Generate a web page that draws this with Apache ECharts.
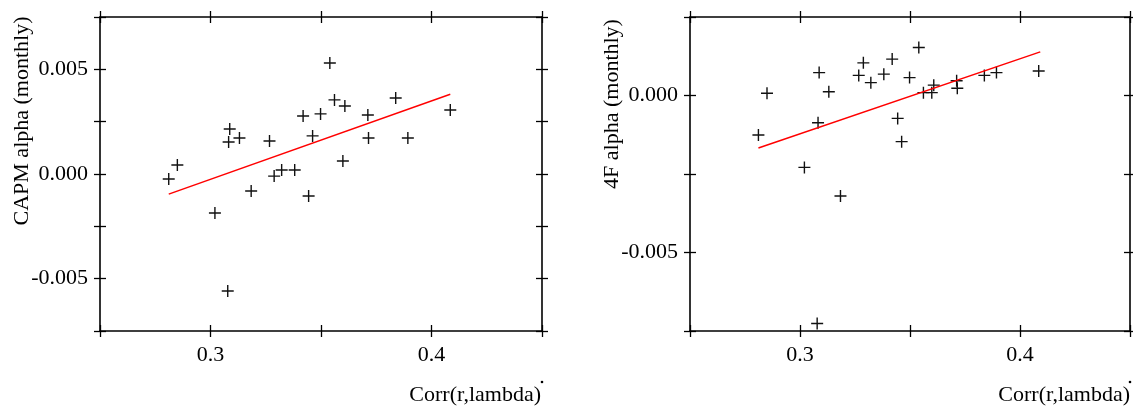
<!DOCTYPE html>
<html>
<head>
<meta charset="utf-8">
<script src="https://cdn.jsdelivr.net/npm/echarts@6/dist/echarts.min.js"></script>
<style>
html,body{margin:0;padding:0;background:#fff;}
#chart{width:1133px;height:407px;}
</style>
</head>
<body>
<div id="chart"></div>
<script>
// ---- data ----
const corr = [0.2811, 0.2850, 0.3020, 0.3078, 0.3087, 0.3082, 0.3131, 0.3184, 0.3267, 0.3288,
              0.3322, 0.3381, 0.3419, 0.3444, 0.3462, 0.3498, 0.3540, 0.3561, 0.3608, 0.3599,
              0.3712, 0.3715, 0.3838, 0.3893, 0.4085];
const capmAlpha = [-0.00024, 0.00043, -0.00186, -0.00559, 0.00215, 0.00153, 0.00172, -0.00081, 0.00158, -0.00010,
                   0.00019, 0.00019, 0.00277, -0.00105, 0.00182, 0.00287, 0.00530, 0.00354, 0.00325, 0.00062,
                   0.00282, 0.00172, 0.00363, 0.00172, 0.00306];
const ffAlpha = [-0.00126, 0.00007, -0.00229, -0.00726, 0.00073, -0.00087, 0.00012, -0.00320, 0.00064, 0.00104,
                 0.00041, 0.00068, 0.00116, -0.00073, -0.00147, 0.00057, 0.00153, 0.00009, 0.00033, 0.00009,
                 0.00047, 0.00023, 0.00064, 0.00073, 0.00078];
const capmFitX = [0.2811, 0.4085];
const capmFitY = [-0.00096, 0.00381];
const ffFitX = [0.2811, 0.4092];
const ffFitY = [-0.00167, 0.00139];

const xLabelValues = [0.3, 0.4];
const capmYLabelValues = [-0.005, 0.000, 0.005];
const ffYLabelValues = [-0.005, 0.000];
const xTitle = 'Corr(r,lambda)';
const capmYTitle = 'CAPM alpha (monthly)';
const ffYTitle = '4F alpha (monthly)';

// ---- chart ----
const FONT = '"Liberation Serif", "DejaVu Serif", serif';
const INK = '#000';
const panels = [
  {grid: {left: 100, top: 17, width: 442, height: 314}, xMin: 0.25, xMax: 0.45, xInt: 0.05,
   yMin: -0.0075, yMax: 0.0075, yInt: 0.0025, y: capmAlpha, fx: capmFitX, fy: capmFitY,
   yLabels: capmYLabelValues},
  {grid: {left: 690, top: 17, width: 441, height: 314}, xMin: 0.25, xMax: 0.45, xInt: 0.05,
   yMin: -0.0075, yMax: 0.0025, yInt: 0.0025, y: ffAlpha, fx: ffFitX, fy: ffFitY,
   yLabels: ffYLabelValues}
];

function near(v, list) { return list.some(t => Math.abs(v - t) < 1e-9); }

const grids = [], xAxes = [], yAxes = [], series = [];
const TL = 6;
const tickStyle = {color: INK, width: 1.3};
const hiddenLine = {show: false, onZero: false};
panels.forEach((p, g) => {
  grids.push(Object.assign({containLabel: false}, p.grid));
  const xBase = {type: 'value', gridIndex: g, min: p.xMin, max: p.xMax, interval: p.xInt,
    splitLine: {show: false}, axisLine: {show: true, onZero: false, lineStyle: {color: INK, width: 1.6}}};
  const yBase = {type: 'value', gridIndex: g, min: p.yMin, max: p.yMax, interval: p.yInt,
    splitLine: {show: false}, axisLine: {show: true, onZero: false, lineStyle: {color: INK, width: 1.6}}};
  const xMainIdx = xAxes.length;
  xAxes.push(Object.assign({}, xBase, {position: 'bottom',
    axisTick: {show: true, inside: false, length: TL, lineStyle: tickStyle},
    axisLabel: {show: true, margin: 13, color: INK, fontFamily: FONT, fontSize: 22,
      formatter: v => near(v, xLabelValues) ? v.toFixed(1) : ''}}));
  xAxes.push(Object.assign({}, xBase, {position: 'bottom', axisLine: hiddenLine,
    axisTick: {show: true, inside: true, length: TL, lineStyle: tickStyle}, axisLabel: {show: false}}));
  xAxes.push(Object.assign({}, xBase, {position: 'top',
    axisTick: {show: true, inside: false, length: TL, lineStyle: tickStyle}, axisLabel: {show: false}}));
  xAxes.push(Object.assign({}, xBase, {position: 'top', axisLine: hiddenLine,
    axisTick: {show: true, inside: true, length: TL, lineStyle: tickStyle}, axisLabel: {show: false}}));
  const yMainIdx = yAxes.length;
  const labs = p.yLabels;
  yAxes.push(Object.assign({}, yBase, {position: 'left',
    axisTick: {show: true, inside: false, length: TL, lineStyle: tickStyle},
    axisLabel: {show: true, margin: 12, color: INK, fontFamily: FONT, fontSize: 22,
      formatter: v => near(v, labs) ? (Math.abs(v) < 1e-12 ? '0.000' : v.toFixed(3)) : ''}}));
  yAxes.push(Object.assign({}, yBase, {position: 'left', axisLine: hiddenLine,
    axisTick: {show: true, inside: true, length: TL, lineStyle: tickStyle}, axisLabel: {show: false}}));
  yAxes.push(Object.assign({}, yBase, {position: 'right',
    axisTick: {show: true, inside: false, length: TL, lineStyle: tickStyle}, axisLabel: {show: false}}));
  yAxes.push(Object.assign({}, yBase, {position: 'right', axisLine: hiddenLine,
    axisTick: {show: true, inside: true, length: TL, lineStyle: tickStyle}, axisLabel: {show: false}}));

  series.push({type: 'scatter', xAxisIndex: xMainIdx, yAxisIndex: yMainIdx,
    symbol: 'path://M5.3,0H6.7V12H5.3Z M0,5.3H12V6.7H0Z', symbolSize: 12,
    itemStyle: {color: '#111', opacity: 1}, silent: true,
    data: corr.map((c, i) => [c, p.y[i]])});
  series.push({type: 'line', xAxisIndex: xMainIdx, yAxisIndex: yMainIdx, symbol: 'none', silent: true,
    lineStyle: {color: '#ff0000', width: 1.5}, data: p.fx.map((x, i) => [x, p.fy[i]])});
});

const chart = echarts.init(document.getElementById('chart'), null, {renderer: 'canvas'});
chart.setOption({
  animation: false,
  backgroundColor: '#fff',
  grid: grids,
  xAxis: xAxes,
  yAxis: yAxes,
  series: series,
  graphic: [
    {type: 'text', x: 22, y: 121, rotation: Math.PI / 2,
     style: {text: capmYTitle, font: '22px ' + FONT, fill: INK, textAlign: 'center', textVerticalAlign: 'middle'}},
    {type: 'text', x: 612, y: 104, rotation: Math.PI / 2,
     style: {text: ffYTitle, font: '22px ' + FONT, fill: INK, textAlign: 'center', textVerticalAlign: 'middle'}},
    {type: 'text', x: 541, y: 395,
     style: {text: xTitle, font: '22px ' + FONT, fill: INK, textAlign: 'right', textVerticalAlign: 'middle'}},
    {type: 'text', x: 1130, y: 395,
     style: {text: xTitle, font: '22px ' + FONT, fill: INK, textAlign: 'right', textVerticalAlign: 'middle'}},
    {type: 'circle', shape: {cx: 542, cy: 382, r: 1.3}, style: {fill: INK}},
    {type: 'circle', shape: {cx: 1130, cy: 382, r: 1.3}, style: {fill: INK}}
  ]
});
</script>
</body>
</html>
